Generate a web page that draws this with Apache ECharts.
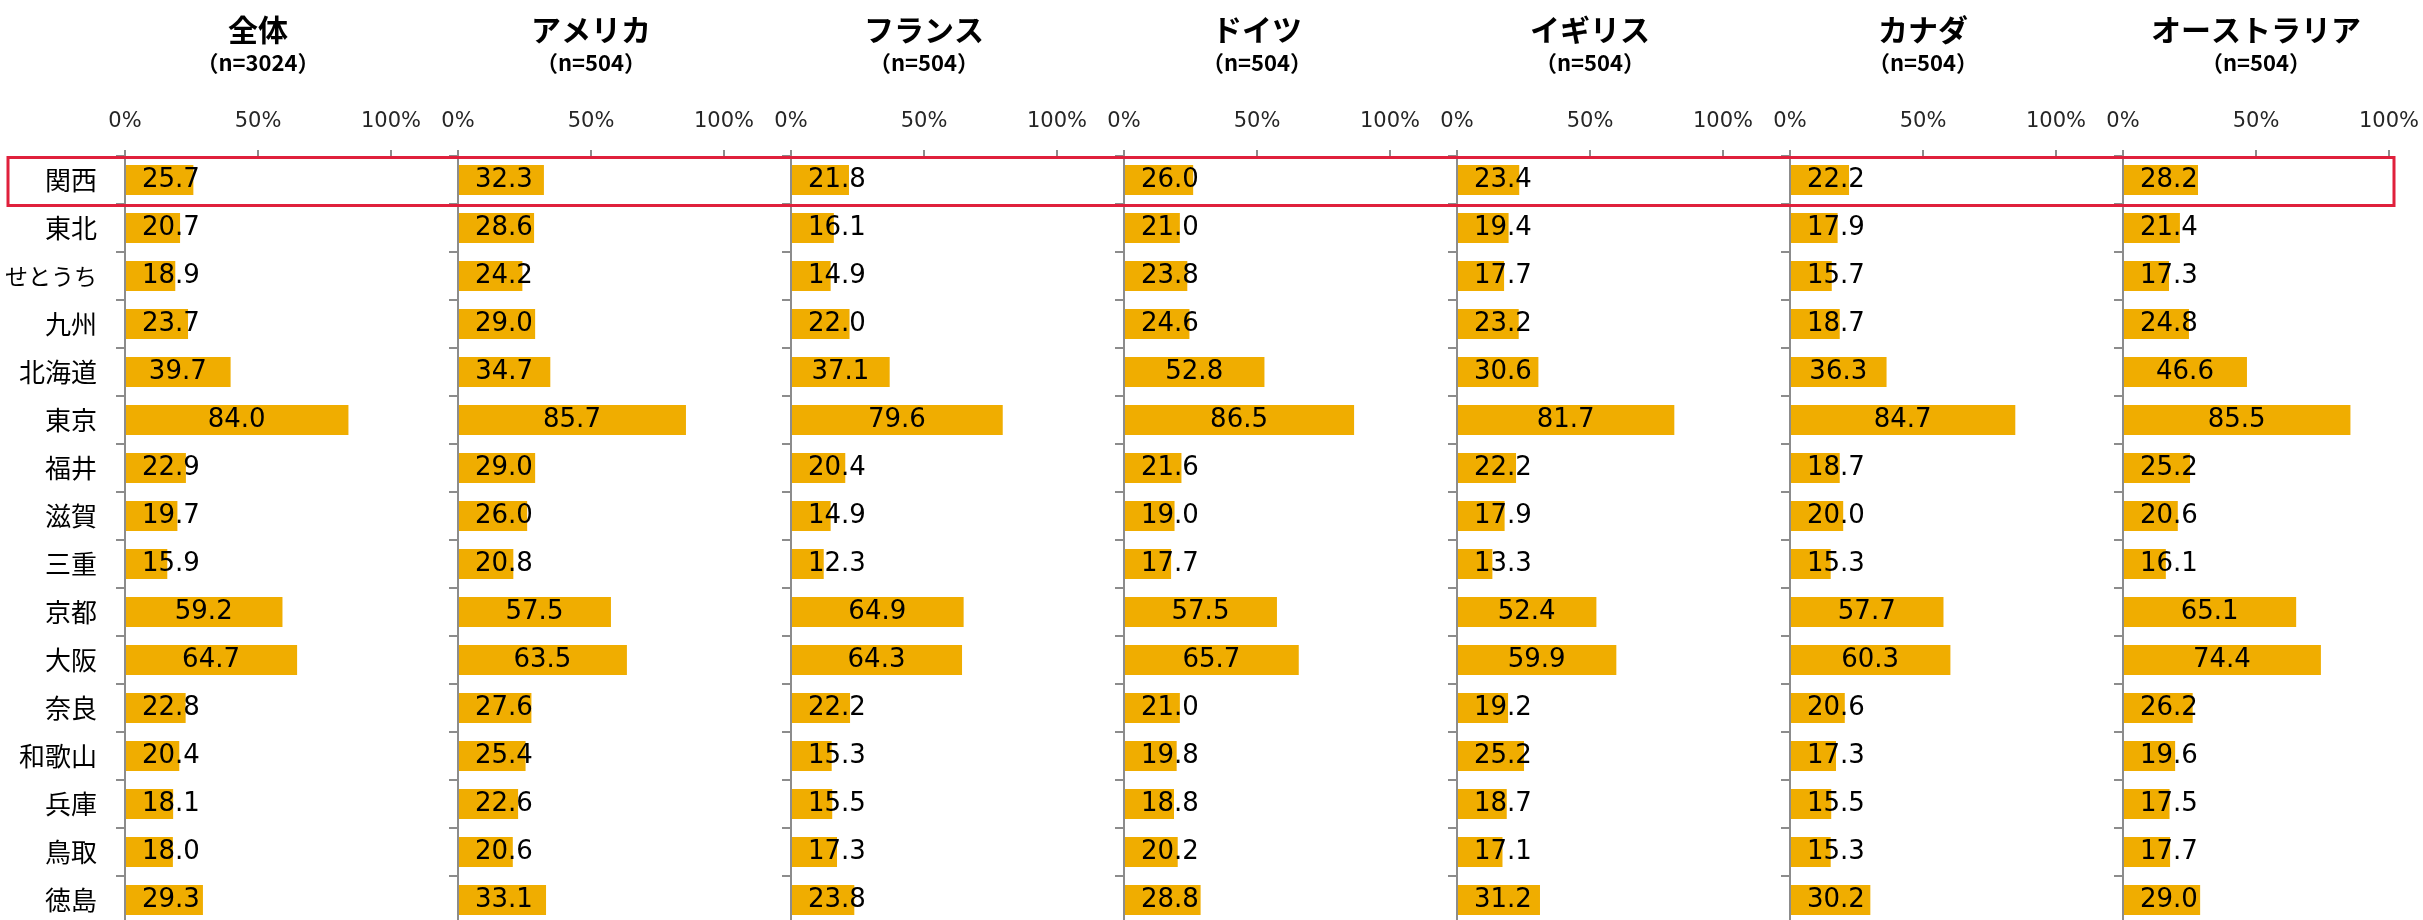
<!DOCTYPE html>
<html>
<head>
<meta charset="utf-8">
<script src="https://cdn.jsdelivr.net/npm/echarts@6/dist/echarts.min.js"></script>
<style>
html,body{margin:0;padding:0;background:#fff;}
#c{width:2423px;height:920px;}
</style>
</head>
<body>
<div id="c"></div>
<script>
const categories = ['関西','東北','せとうち','九州','北海道','東京','福井','滋賀','三重','京都','大阪','奈良','和歌山','兵庫','鳥取','徳島'];
const panelTitles = ['全体','アメリカ','フランス','ドイツ','イギリス','カナダ','オーストラリア'];
const panelNs = ['（n=3024）','（n=504）','（n=504）','（n=504）','（n=504）','（n=504）','（n=504）'];
const xTicks = [0, 50, 100];

const all  = [25.7, 20.7, 18.9, 23.7, 39.7, 84.0, 22.9, 19.7, 15.9, 59.2, 64.7, 22.8, 20.4, 18.1, 18.0, 29.3];
const usa  = [32.3, 28.6, 24.2, 29.0, 34.7, 85.7, 29.0, 26.0, 20.8, 57.5, 63.5, 27.6, 25.4, 22.6, 20.6, 33.1];
const fra  = [21.8, 16.1, 14.9, 22.0, 37.1, 79.6, 20.4, 14.9, 12.3, 64.9, 64.3, 22.2, 15.3, 15.5, 17.3, 23.8];
const ger  = [26.0, 21.0, 23.8, 24.6, 52.8, 86.5, 21.6, 19.0, 17.7, 57.5, 65.7, 21.0, 19.8, 18.8, 20.2, 28.8];
const gbr  = [23.4, 19.4, 17.7, 23.2, 30.6, 81.7, 22.2, 17.9, 13.3, 52.4, 59.9, 19.2, 25.2, 18.7, 17.1, 31.2];
const can  = [22.2, 17.9, 15.7, 18.7, 36.3, 84.7, 18.7, 20.0, 15.3, 57.7, 60.3, 20.6, 17.3, 15.5, 15.3, 30.2];
const aus  = [28.2, 21.4, 17.3, 24.8, 46.6, 85.5, 25.2, 20.6, 16.1, 65.1, 74.4, 26.2, 19.6, 17.5, 17.7, 29.0];
const seriesData = [all, usa, fra, ger, gbr, can, aus];

// layout constants
const JP = '"Noto Sans CJK JP", sans-serif';
const LAT = '"DejaVu Sans", "Noto Sans CJK JP", sans-serif';
const GRID_LEFT0 = 125, GRID_STEP = 333, GRID_W = 266, GRID_TOP = 156, ROW_H = 48;
const GRID_H = ROW_H * categories.length;
const BAR_COLOR = '#F0AD00';
const AXIS_COLOR = '#8c8c8c';
const LABEL_SWITCH = 34; // below this value the label sits at a fixed inset from the base

const chart = echarts.init(document.getElementById('c'), null, {renderer: 'canvas'});

const grids = [], xAxes = [], yAxes = [], series = [], graphics = [];
seriesData.forEach((vals, i) => {
  const left = GRID_LEFT0 + GRID_STEP * i;
  grids.push({left: left, top: GRID_TOP, width: GRID_W, height: GRID_H, containLabel: false, outerBoundsMode: 'none'});
  xAxes.push({
    gridIndex: i, type: 'value', position: 'top',
    min: xTicks[0], max: xTicks[xTicks.length - 1], interval: xTicks[1] - xTicks[0],
    axisLine: {show: false},
    axisTick: {show: true, length: 6, lineStyle: {color: AXIS_COLOR, width: 2}},
    splitLine: {show: false},
    axisLabel: {formatter: '{value}%', fontSize: 21, fontFamily: LAT, color: '#262626', margin: 24, lineHeight: 21}
  });
  yAxes.push({
    gridIndex: i, type: 'category', data: categories, inverse: true, z: 5,
    axisLine: {show: true, lineStyle: {color: AXIS_COLOR, width: 2}},
    axisTick: {show: true, length: 9, lineStyle: {color: AXIS_COLOR, width: 2}},
    axisLabel: {
      show: i === 0, fontSize: 26, fontFamily: JP, color: '#000', margin: 28,
      formatter: v => /^[\u3040-\u309f]+$/.test(v) ? '{k|' + v + '}' : v,
      rich: {k: {fontSize: 23, fontFamily: JP, color: '#000'}}
    }
  });
  series.push({
    type: 'bar', xAxisIndex: i, yAxisIndex: i,
    barWidth: 30,
    itemStyle: {color: BAR_COLOR},
    data: vals.map(v => ({
      value: v,
      label: v < LABEL_SWITCH ? {position: 'insideLeft', distance: 17} : {position: 'inside'}
    })),
    label: {
      show: true, fontSize: 26, fontFamily: LAT, color: '#000',
      formatter: p => p.value.toFixed(1)
    },
    silent: true, animation: false
  });
  const cx = left + GRID_W / 2;
  graphics.push({
    type: 'text', x: cx, y: 30, z: 10,
    style: {text: panelTitles[i], font: 'bold 30px ' + JP, fill: '#000', textAlign: 'center', textVerticalAlign: 'middle'}
  });
  graphics.push({
    type: 'text', x: cx, y: 63, z: 10,
    style: {text: panelNs[i], font: 'bold 22px ' + JP, fill: '#000', textAlign: 'center', textVerticalAlign: 'middle'}
  });
});

// highlight box around the first category row
graphics.push({
  type: 'rect', z: 20,
  shape: {x: 8, y: GRID_TOP + 1.5, width: 2386, height: ROW_H},
  style: {fill: 'none', stroke: '#E0203C', lineWidth: 3}
});

chart.setOption({
  animation: false,
  grid: grids, xAxis: xAxes, yAxis: yAxes, series: series,
  graphic: graphics
});
</script>
</body>
</html>
